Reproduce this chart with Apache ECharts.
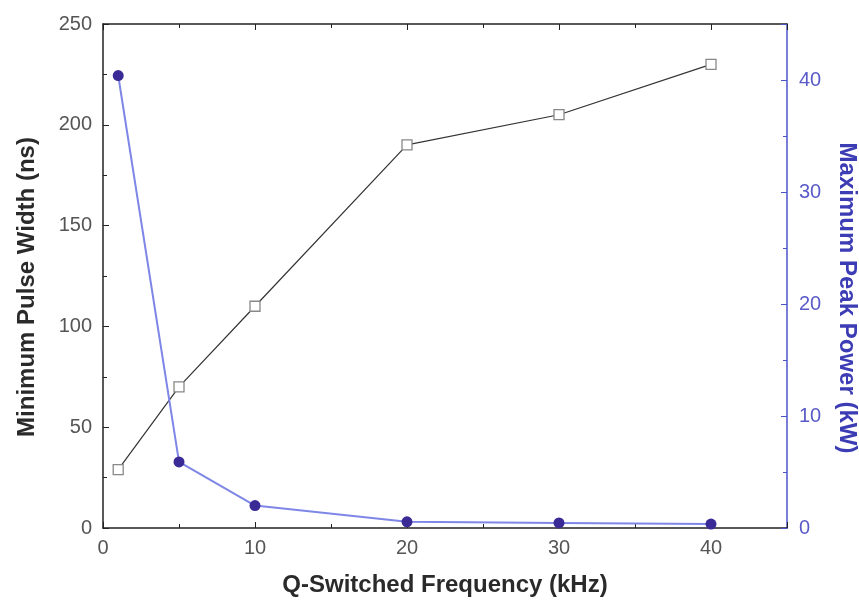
<!DOCTYPE html>
<html>
<head>
<meta charset="utf-8">
<script src="https://cdn.jsdelivr.net/npm/echarts@6/dist/echarts.min.js"></script>
<style>
  html, body { margin: 0; padding: 0; background: #fff; }
  #chart { width: 859px; height: 605px; }
</style>
</head>
<body>
<div id="chart"></div>
<script>
// Q-switch repetition rate (kHz)
const frequency = [1, 5, 10, 20, 30, 40];
// Minimum pulse width (ns), left axis
const pulseWidth = [29, 70, 110, 190, 205, 230];
// Maximum peak power (kW), right axis
const peakPower = [40.4, 5.9, 2.0, 0.55, 0.45, 0.35];

const widthPoints = frequency.map((f, i) => [f, pulseWidth[i]]);
const powerPoints = frequency.map((f, i) => [f, peakPower[i]]);

const labelFont = { fontFamily: 'Liberation Sans, Arial, sans-serif', fontSize: 20 };
const titleFont = { fontFamily: 'Liberation Sans, Arial, sans-serif', fontSize: 24, fontWeight: 'bold' };
const blue = '#4b55c8';

const chart = echarts.init(document.getElementById('chart'), null, { renderer: 'canvas' });
chart.setOption({
  backgroundColor: '#ffffff',
  animation: false,
  grid: { left: 103, right: 72, top: 24, bottom: 77, containLabel: false, outerBoundsMode: 'none' },
  xAxis: [
    {
      type: 'value', position: 'bottom', min: 0, max: 45, interval: 10,
      name: 'Q-Switched Frequency (kHz)', nameLocation: 'middle', nameGap: 45,
      nameTextStyle: Object.assign({ color: '#2a2a2a' }, titleFont),
      axisLine: { show: true, onZero: false, lineStyle: { color: '#222', width: 1.5 } },
      axisTick: { show: true, inside: true, length: 6, lineStyle: { color: '#222' } },
      minorTick: { show: true, splitNumber: 2, length: 4, lineStyle: { color: '#222' } },
      axisLabel: Object.assign({ color: '#555', margin: 10, showMaxLabel: false }, labelFont),
      splitLine: { show: false }
    },
    {
      type: 'value', position: 'top', min: 0, max: 45, interval: 10,
      axisLine: { show: true, onZero: false, lineStyle: { color: '#222', width: 1.5 } },
      axisTick: { show: true, inside: true, length: 6, lineStyle: { color: '#222' } },
      minorTick: { show: true, splitNumber: 2, length: 4, lineStyle: { color: '#222' } },
      axisLabel: { show: false },
      splitLine: { show: false }
    }
  ],
  yAxis: [
    {
      type: 'value', position: 'left', min: 0, max: 250, interval: 50,
      name: 'Minimum Pulse Width (ns)', nameLocation: 'middle', nameGap: 64, nameRotate: 90,
      nameTextStyle: Object.assign({ color: '#2a2a2a', padding: [0, 22, 0, 0] }, titleFont),
      axisLine: { show: true, onZero: false, lineStyle: { color: '#222', width: 1.5 } },
      axisTick: { show: true, inside: true, length: 6, lineStyle: { color: '#222' } },
      minorTick: { show: true, splitNumber: 2, length: 4, lineStyle: { color: '#222' } },
      axisLabel: Object.assign({ color: '#555', margin: 11 }, labelFont),
      splitLine: { show: false }
    },
    {
      type: 'value', position: 'right', min: 0, max: 45, interval: 10,
      name: 'Maximum Peak Power (kW)', nameLocation: 'middle', nameGap: 48, nameRotate: -90,
      nameTextStyle: Object.assign({ color: '#3c3cb4', padding: [0, 0, 0, 44] }, titleFont),
      axisLine: { show: true, onZero: false, lineStyle: { color: blue, width: 1.5 } },
      axisTick: { show: true, inside: true, length: 6, lineStyle: { color: blue } },
      minorTick: { show: true, splitNumber: 2, length: 4, lineStyle: { color: blue } },
      axisLabel: Object.assign({ color: '#5a5ac8', margin: 12, showMaxLabel: false }, labelFont),
      splitLine: { show: false }
    }
  ],
  series: [
    {
      name: 'Pulse width', type: 'line', xAxisIndex: 0, yAxisIndex: 0,
      data: widthPoints,
      symbol: 'rect', symbolSize: 10,
      lineStyle: { color: '#333', width: 1.2 },
      itemStyle: { color: '#ffffff', borderColor: '#888', borderWidth: 1.3 },
      z: 3
    },
    {
      name: 'Peak power', type: 'line', xAxisIndex: 0, yAxisIndex: 1,
      data: powerPoints,
      symbol: 'circle', symbolSize: 11,
      lineStyle: { color: '#7e86e6', width: 2 },
      itemStyle: { color: '#3a2a96', borderColor: '#3a2a96', borderWidth: 0 },
      z: 4
    }
  ]
});
</script>
</body>
</html>
